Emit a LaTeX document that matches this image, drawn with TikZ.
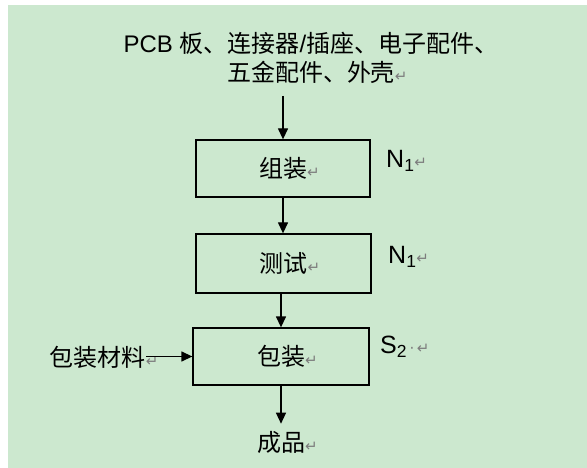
\documentclass[tikz,border=0pt]{standalone}
\usepackage{fontspec}
\setmainfont{Liberation Sans}
\newfontfamily\cjk{Noto Sans CJK SC}
\newfontfamily\dv{DejaVu Sans}
\usetikzlibrary{arrows.meta}
\definecolor{bgc}{RGB}{204,232,207}
\definecolor{markc}{RGB}{125,125,125}
\newcommand\pmk{\rlap{\textcolor{markc}{\fontsize{15}{15}\selectfont\dv ↵}}}
\begin{document}
\begin{tikzpicture}[x=1pt,y=-1pt,
  stepbox/.style={draw=black,line width=1.3pt,minimum width=174pt,minimum height=57pt,inner sep=0pt,font=\fontsize{24}{29}\selectfont\cjk},
  arr/.style={line width=1.3pt,-{Triangle[width=10pt,length=11pt]}},
  lbl/.style={font=\fontsize{25}{29}\selectfont,inner sep=0pt,anchor=west},
  txt/.style={font=\fontsize{24}{29}\selectfont\cjk,inner sep=0pt}]
\useasboundingbox (0,0) rectangle (587,468);
\fill[white] (0,0) rectangle (587,468);
\fill[bgc] (8,5) rectangle (587,468);

\node[txt,align=center,font=\fontsize{24}{29}\selectfont] (src) at (311,58)
  {PCB {\cjk 板、连接器}/{\cjk 插座、电子配件、}\\{\cjk 五金配件、外壳}\pmk};

\node[stepbox] (b1) at (283,168.5) {组装\pmk};
\node[stepbox,minimum width=175pt,minimum height=59pt] (b2) at (283.5,263.5) {测试\pmk};
\node[stepbox,minimum width=176pt] (b3) at (281,356.5) {包装\pmk};

\node[lbl] (n1) at (386,161) {N\textsubscript{1}\pmk};
\node[lbl] (n2) at (388,257) {N\textsubscript{1}\pmk};
\node[lbl] (s2) at (380,347) {S\textsubscript{2}\textcolor{markc}{\fontsize{15}{15}\selectfont\dv\,·\,↵}};

\node[txt,anchor=east] (pm) at (146,357) {包装材料\pmk};
\node[txt] (fp) at (281,442) {成品\pmk};

\coordinate (a0) at (283,96);
\draw[arr] (a0) -- (b1.north);
\draw[arr] (b1.south) -- (b2.north -| b1.south);
\draw[arr] (b3.north |- b2.south) -- (b3.north);
\draw[arr] (pm.east |- b3.west) -- (b3.west);
\draw[arr,shorten >=7pt] (b3.south) -- (fp.north);
\end{tikzpicture}
\end{document}
